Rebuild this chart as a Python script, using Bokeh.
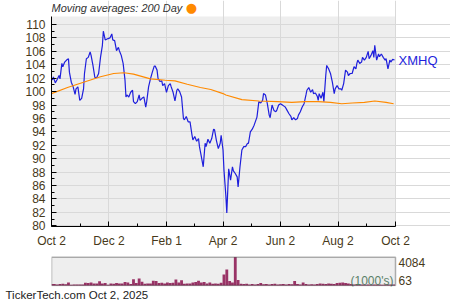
import pandas as pd
from bokeh.plotting import figure
from bokeh.models import Range1d, FixedTicker, Label, ColumnDataSource, BoxAnnotation, Title
from bokeh.layouts import column
from bokeh.embed import file_html
from bokeh.resources import INLINE

start = "2024-10-02"
end = "2025-10-02"
symbol = "XMHQ"
title_text = "Moving averages: 200 Day"
footer_text = "TickerTech.com  Oct 2, 2025"

# price: day offsets from start, closing values
price_day = [1, 2, 4, 6, 8, 9, 11, 12, 14, 16, 18, 19, 21, 23, 25, 26, 28, 30, 32, 34,
             35, 37, 39, 41, 42, 44, 46, 48, 50, 52, 54, 55, 57, 60, 62, 64, 65, 67, 69, 71,
             72, 74, 76, 78, 79, 80, 82, 84, 86, 87, 89, 91, 93, 94, 96, 98, 100, 101, 103, 105,
             107, 109, 110, 112, 113, 115, 117, 118, 120, 122, 124, 126, 127, 129, 131, 133, 134, 136, 138, 140,
             141, 143, 145, 147, 149, 150, 152, 154, 156, 157, 159, 161, 163, 164, 166, 168, 170, 172, 173, 175,
             177, 179, 180, 182, 183, 185, 186, 188, 190, 192, 193, 195, 197, 198, 200, 202, 204, 206, 208, 209,
             211, 213, 215, 218, 220, 222, 224, 225, 227, 229, 231, 232, 234, 236, 238, 239, 241, 243, 245, 247,
             248, 250, 252, 254, 255, 257, 259, 261, 262, 264, 266, 268, 270, 271, 273, 275, 277, 278, 280, 282,
             283, 284, 286, 288, 289, 291, 292, 294, 296, 298, 300, 301, 303, 305, 307, 308, 310, 312, 314, 315,
             317, 319, 321, 323, 324, 325, 327, 329, 330, 332, 334, 336, 337, 339, 341, 342, 343, 345, 347, 348,
             350, 352, 354, 355, 357, 359, 360, 362, 364]
price = [101.7, 102.2, 101.3, 101.8, 102.4, 101.9, 104.2, 103.7, 104.4, 104.7, 104.9, 102.9, 101.4, 100.7, 99.6, 100.4, 100.7, 98.7, 99.0, 100.4,
         102.7, 104.9, 105.1, 105.9, 105.4, 103.9, 102.1, 102.1, 102.7, 105.1, 106.9, 109.0, 107.7, 107.9, 108.0, 108.6, 107.7, 107.6, 106.1, 106.6,
         106.1, 105.4, 104.2, 101.7, 99.2, 99.5, 99.2, 99.9, 100.2, 98.5, 98.2, 98.5, 99.5, 98.7, 99.0, 99.2, 97.7, 98.5, 100.7, 101.9,
         102.9, 103.8, 103.8, 103.2, 102.0, 101.5, 101.6, 100.9, 101.2, 99.9, 100.9, 101.2, 100.7, 99.9, 98.6, 100.2, 100.4, 100.0, 99.2, 96.0,
         95.8, 96.3, 95.5, 95.5, 93.6, 92.8, 93.3, 92.6, 93.0, 91.8, 90.3, 88.8, 92.3, 91.8, 92.9, 92.3, 93.0, 94.4, 94.3, 92.7,
         91.5, 92.3, 93.5, 91.3, 88.3, 84.5, 81.9, 88.5, 86.8, 88.8, 88.2, 87.8, 87.3, 85.8, 88.8, 91.3, 91.8, 91.8, 92.3, 92.3,
         94.0, 94.4, 95.0, 96.2, 98.5, 98.3, 98.7, 99.7, 99.5, 98.2, 96.5, 96.1, 98.0, 97.2, 97.0, 97.2, 98.0, 98.2, 98.0, 97.8,
         97.7, 97.2, 96.7, 96.3, 95.8, 96.1, 95.8, 96.0, 96.5, 97.0, 97.7, 98.2, 99.5, 100.2, 100.6, 99.9, 100.3, 99.7, 99.8, 99.3,
         98.7, 99.7, 99.0, 99.9, 98.5, 102.4, 103.9, 103.4, 102.7, 101.4, 99.7, 100.4, 100.9, 100.4, 100.4, 100.2, 101.2, 103.2, 102.9, 102.4,
         102.7, 102.7, 103.7, 103.4, 104.2, 104.7, 104.2, 104.4, 105.1, 104.7, 105.1, 106.0, 104.9, 105.4, 106.1, 105.1, 106.9, 104.7, 105.6, 105.2,
         105.6, 105.1, 104.7, 104.9, 103.4, 104.7, 104.4, 104.8, 104.7]

# 200-day moving average
ma_day = [0, 17, 34, 52, 66, 77, 87, 105, 121, 131, 144, 158, 169, 182, 185, 202, 220, 240, 255, 269, 283, 296, 308, 319, 332, 343, 355, 363]
ma = [99.7, 100.6, 101.4, 102.2, 102.7, 102.8, 102.6, 101.9, 101.7, 101.6, 101.1, 100.6, 100.3, 99.7, 99.5, 98.8, 98.6, 98.5, 98.4, 98.5, 98.5, 98.4, 98.2, 98.3, 98.4, 98.6, 98.4, 98.2]

# volume (thousands), every 3 days
vol_step = 3
volume = [200, 220, 150, 200, 250, 180, 440, 120, 150, 130, 140, 150, 400, 350, 450, 300, 280, 600, 300, 350,
          100, 300, 250, 350, 300, 280, 500, 450, 200, 900, 350, 1000, 550, 250, 280, 300, 700, 650, 350, 400,
          300, 450, 350, 400, 850, 450, 750, 250, 280, 300, 440, 500, 700, 440, 500, 300, 450, 250, 300, 250,
          400, 1600, 2300, 650, 450, 4084, 800, 250, 200, 250, 150, 200, 150, 200, 350, 180, 200, 150, 200, 250,
          150, 180, 200, 150, 200, 180, 650, 200, 150, 450, 200, 150, 180, 150, 200, 300, 250, 200, 300, 250,
          200, 350, 400, 450, 350, 300, 200, 150, 150, 120, 150, 120, 150, 120, 150, 130, 150, 120, 150, 130,
          150, 140]
vol_max = 4084
vol_min = 63

tick_dates = ["2024-10-02", "2024-12-02", "2025-02-01", "2025-04-02", "2025-06-02", "2025-08-02", "2025-10-02"]
tick_labels = ["Oct 2", "Dec 2", "Feb 1", "Apr 2", "Jun 2", "Aug 2", "Oct 2"]
y_ticks = list(range(80, 111, 2))

t0 = pd.Timestamp(start)
span = (pd.Timestamp(end) - t0).days
ticks = [(pd.Timestamp(d) - t0).days for d in tick_dates]
minor = [(a + b) / 2 for a, b in zip(ticks[:-1], ticks[1:])]

FONT = "Liberation Sans"
LABEL_C = "#47391a"
BG = "#eeeeee"
GRID = "#d9d9d9"
BLUE = "#1f1fdc"
ORANGE = "#ff8a00"

# geometry of the chart area (pixels)
W, H_MAIN, H_VOL = 450, 250, 50
left_px, plot_w_px = 51, 344
dpp = span / plot_w_px                      # days per pixel
y_lo, y_hi = 79.9, 111.2
top_px, plot_h_px = 16, 211
upp = (y_hi - y_lo) / plot_h_px             # price units per pixel
x_end = (W - left_px) * dpp

p = figure(width=W, height=H_MAIN, output_backend="svg", toolbar_location=None,
           x_range=Range1d(0, x_end),
           y_range=Range1d(y_lo, y_hi + top_px * upp),
           min_border_left=left_px, min_border_right=0, min_border_top=0, min_border_bottom=23,
           background_fill_color="white", border_fill_color="white", outline_line_color=None)
p.add_layout(BoxAnnotation(left=0, right=span, bottom=y_lo, top=y_hi, fill_color=BG, fill_alpha=1,
                           line_color=None, level="image"))
p.line(price_day, price, line_color=BLUE, line_width=1.2)
p.line(ma_day, ma, line_color=ORANGE, line_width=1.1)

p.xaxis.ticker = FixedTicker(ticks=ticks, minor_ticks=minor)
p.xaxis.major_label_overrides = {t: l for t, l in zip(ticks, tick_labels)}
p.xaxis.bounds = (0, span)
p.yaxis.ticker = FixedTicker(ticks=y_ticks, minor_ticks=[t + 1 for t in y_ticks[:-1]])
p.yaxis.bounds = (y_lo, y_hi)
for ax in (p.xaxis[0], p.yaxis[0]):
    ax.axis_line_color = "black"
    ax.major_tick_line_color = "black"
    ax.minor_tick_line_color = "black"
    ax.major_tick_in = 5
    ax.major_tick_out = 0
    ax.minor_tick_in = 3
    ax.minor_tick_out = 0
    ax.major_label_text_font = FONT
    ax.major_label_text_font_size = "12px"
    ax.major_label_text_color = LABEL_C
    ax.major_label_standoff = 7
p.yaxis.major_label_standoff = 6
p.xgrid.grid_line_color = GRID
p.ygrid.grid_line_color = GRID
p.xgrid.ticker = FixedTicker(ticks=ticks)
p.ygrid.ticker = FixedTicker(ticks=y_ticks)
p.xgrid.bounds = (y_lo, y_hi)
p.ygrid.bounds = (0, span)

p.add_layout(Label(x=0, y=y_hi, y_offset=8, text=title_text, text_font=FONT, text_font_style="italic",
                   text_font_size="11px", text_color="#333333", text_baseline="middle", text_align="left"))
p.add_layout(Label(x=0, y=y_hi, x_offset=140, y_offset=9, text="\u25cf", text_font="DejaVu Sans",
                   text_font_size="13px", text_color=ORANGE, text_baseline="middle", text_align="center"))
p.add_layout(Label(x=span, y=price[-1], x_offset=3, text=symbol, text_font=FONT, text_font_size="13px",
                   text_color=BLUE, text_baseline="middle", text_align="left"))

# volume panel (frame aligned with the price chart's frame by the column layout)
v_top_px, v_h_px, v_frame_h = 6.7, 28.3, 36
vpp = vol_max / v_h_px
vsrc = ColumnDataSource(dict(x=[i * vol_step for i in range(len(volume))], top=volume))
v = figure(width=W, height=H_VOL, output_backend="svg", toolbar_location=None,
           x_range=Range1d(0, x_end),
           y_range=Range1d(-(v_frame_h - v_top_px - v_h_px) * vpp, vol_max + v_top_px * vpp),
           min_border_left=left_px, min_border_right=0, min_border_top=0,
           min_border_bottom=H_VOL - v_frame_h,
           background_fill_color="white", border_fill_color="white", outline_line_color=None)
v.add_layout(BoxAnnotation(left=0, right=span, bottom=0, top=vol_max, fill_color=BG, fill_alpha=1,
                           line_color=None, level="image"))
v.vbar(x="x", top="top", width=vol_step, bottom=0, source=vsrc, fill_color="#993366", line_color=None)
v.add_layout(BoxAnnotation(left=0, right=span, bottom=0, top=vol_max, fill_color=None,
                           line_color="black", line_width=1.5, level="overlay"))
v.xaxis.visible = False
v.yaxis.visible = False
v.xgrid.visible = False
v.ygrid.visible = False
v.add_layout(Label(x=span, y=vol_max, x_offset=3, y_offset=-5, text=str(vol_max), text_font=FONT,
                   text_font_size="12px", text_color=LABEL_C, text_baseline="middle"))
v.add_layout(Label(x=span, y=0, x_offset=3, y_offset=5, text=str(vol_min), text_font=FONT,
                   text_font_size="12px", text_color=LABEL_C, text_baseline="middle"))
v.add_layout(Label(x=span, y=0, x_offset=-2, y_offset=5, text="(1000's)", text_font=FONT,
                   text_font_size="12px", text_color="#5a8068", text_baseline="middle", text_align="right"))
v.add_layout(Title(text=footer_text, align="left", offset=-46, standoff=0, text_font=FONT,
                   text_font_size="11.5px", text_font_style="normal", text_color="#222222"), "below")

layout = column(p, v, spacing=0)
open("out.html", "w").write(file_html(layout, INLINE))
